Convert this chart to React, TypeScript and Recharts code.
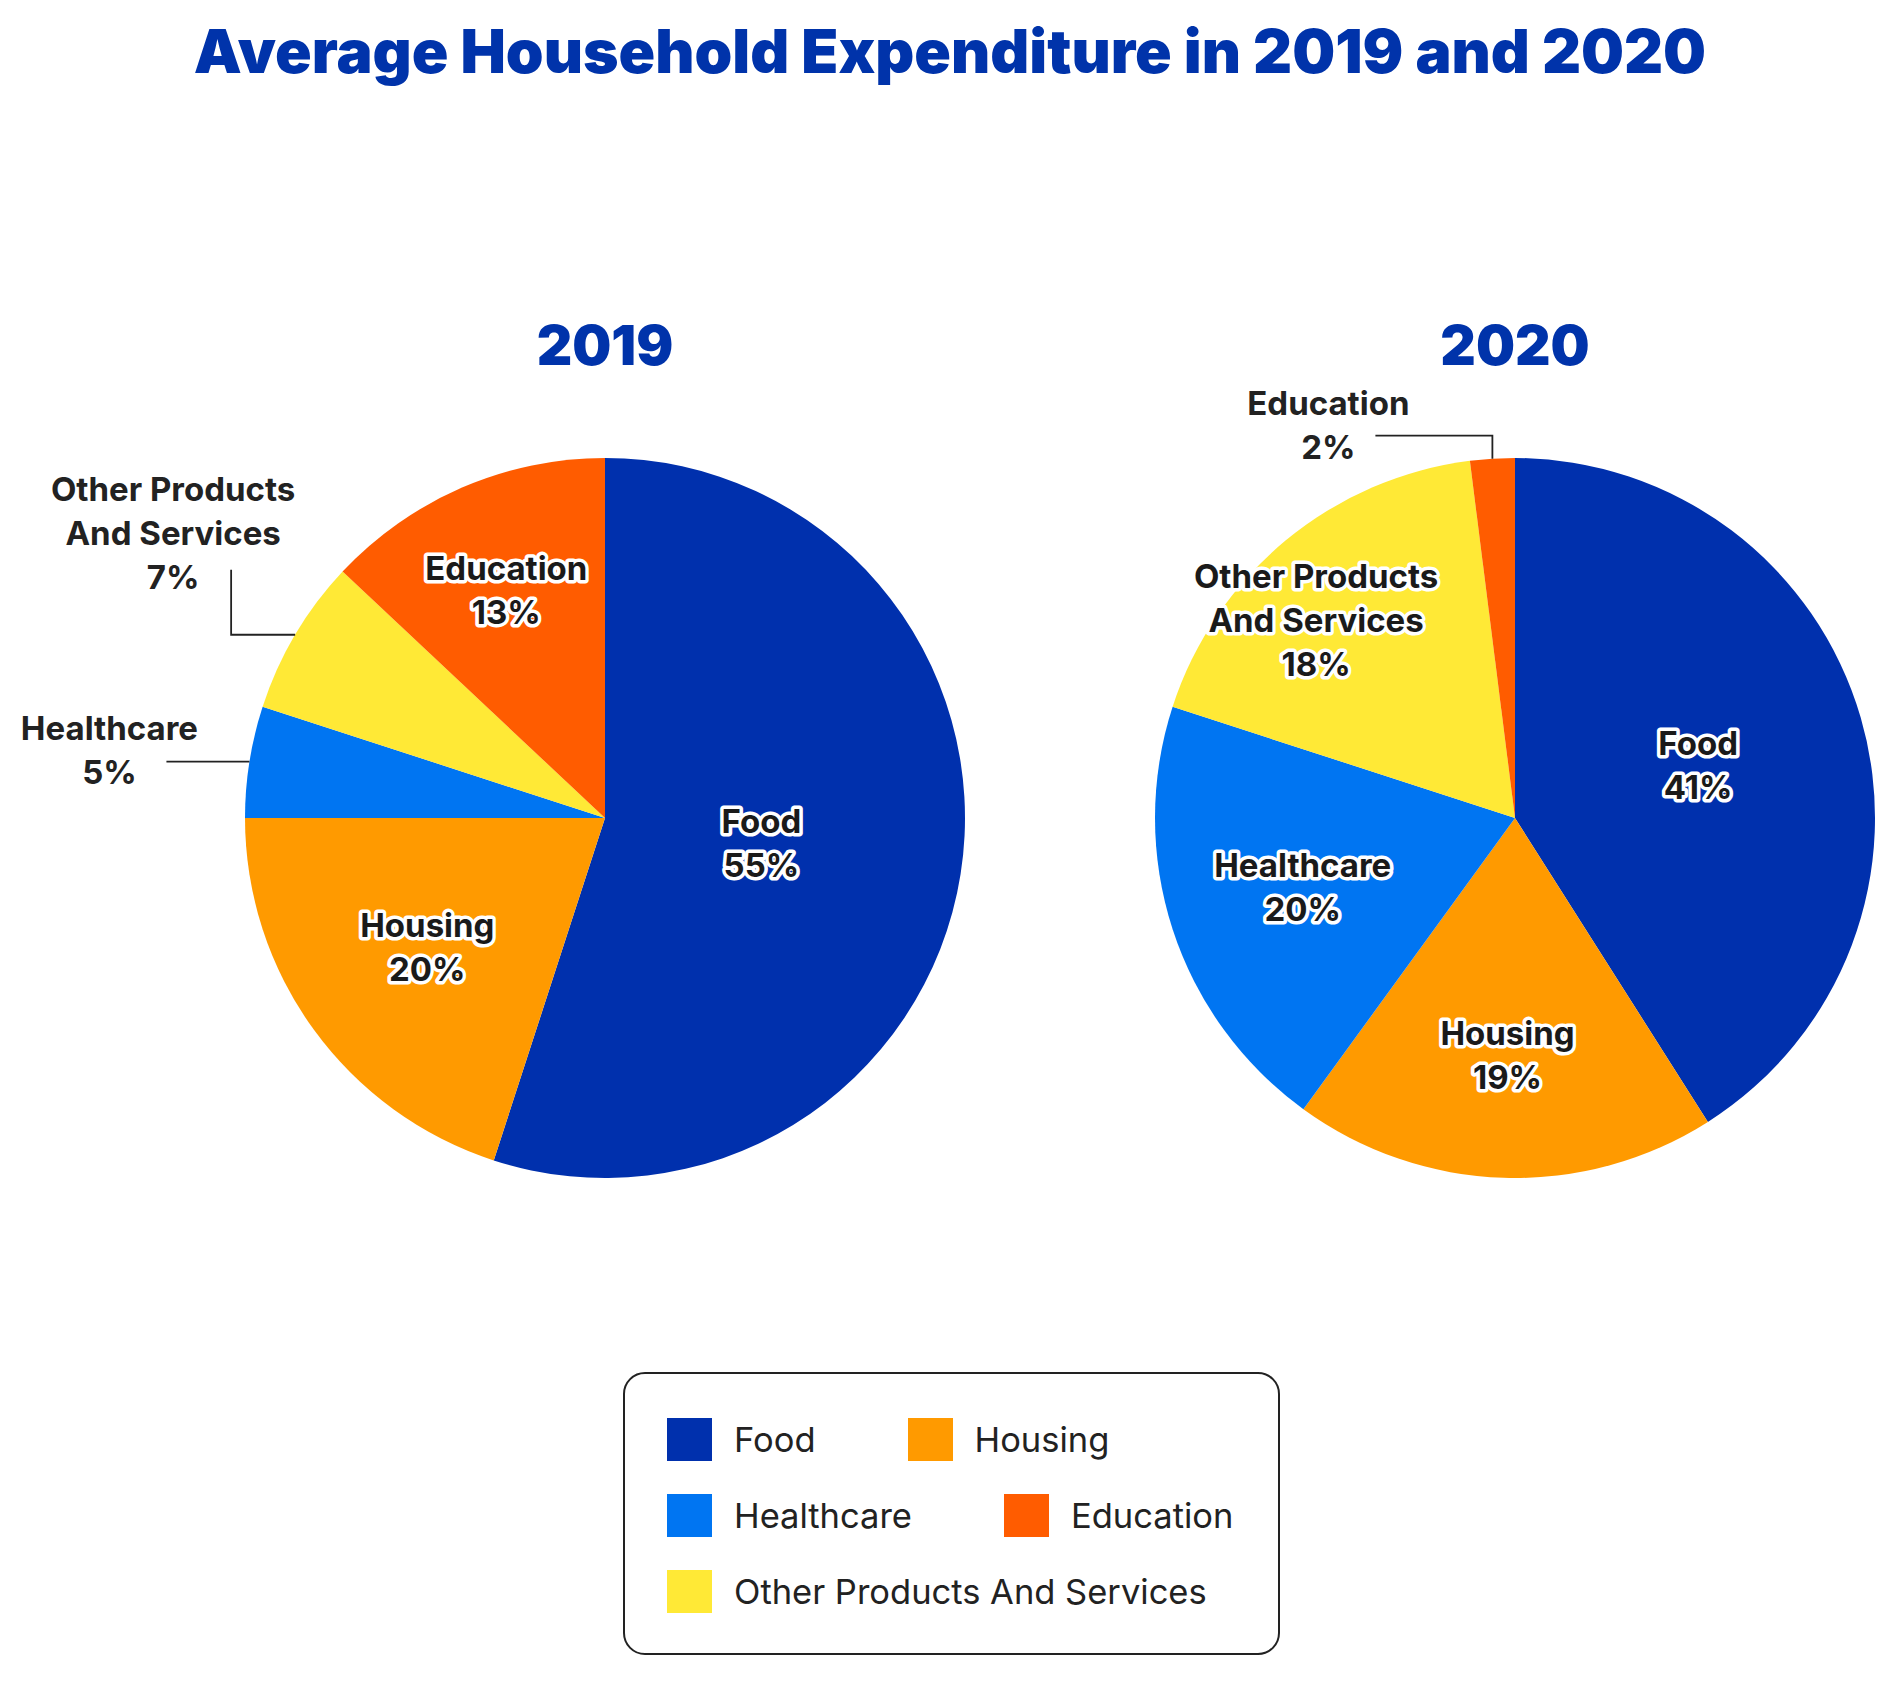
import React from 'react';
import { PieChart, Pie, Cell } from 'recharts';

const categories = ['Food', 'Housing', 'Healthcare', 'Other Products And Services', 'Education'];
const values2019 = [55, 20, 5, 7, 13];
const values2020 = [41, 19, 20, 18, 2];
const colors = ['#0030AD', '#FF9A00', '#0075F2', '#FFE936', '#FF5C00'];

const data2019 = categories.map((name, i) => ({ name, value: values2019[i] }));
const data2020 = categories.map((name, i) => ({ name, value: values2020[i] }));

// legend order as in the picture
const legendOrder = ['Food', 'Housing', 'Healthcare', 'Education', 'Other Products And Services'];

const FONT = 'Inter, "Noto Sans", sans-serif';
const RAD = Math.PI / 180;
const LINE_H = 44;
const LABEL_SIZE = 33;

// label radius (fraction of outer radius) and angle nudge for labels inside the slices
const innerRadius2019 = [0.44, 0.61, 0, 0, 0.69];
const innerRadius2020 = [0.53, 0.66, 0.62, 0.78, 0];
const angleNudge2019 = [0, 0, 0, 0, 0];
const angleNudge2020 = [0, 0, 0, 5.5, 0];

type Outside = { path: [number, number][]; text: [number, number] };

// leader lines: relative segments from the slice edge, and text block centre
const outside2019: Record<string, Outside> = {
  Healthcare: { path: [[-83, 0]], text: [-140, -12] },
  'Other Products And Services': { path: [[-64, 0], [0, -65]], text: [-122, -102] },
};
const outside2020: Record<string, Outside> = {
  Education: { path: [[0, -23], [-117, 0]], text: [-164, -34] },
};

const splitName = (name: string) =>
  name === 'Other Products And Services' ? ['Other Products', 'And Services'] : [name];

const makeLabel = (radii: number[], nudge: number[], outside: Record<string, Outside>) => (props: any) => {
  const { cx, cy, midAngle, outerRadius, index, name, value } = props;
  const lines = [...splitName(name), `${value}%`];
  const out = outside[name];
  if (out) {
    const ex = cx + outerRadius * Math.cos(-midAngle * RAD);
    const ey = cy + outerRadius * Math.sin(-midAngle * RAD);
    let d = `M${ex},${ey}`;
    let px = ex;
    let py = ey;
    out.path.forEach(([dx, dy]) => {
      px += dx;
      py += dy;
      d += ` L${px},${py}`;
    });
    const tx = ex + out.text[0];
    const ty = ey + out.text[1];
    return (
      <g key={`lbl-${index}`}>
        <path d={d} stroke="#222" strokeWidth={1.8} fill="none" />
        <text x={tx} textAnchor="middle" fontFamily={FONT} fontWeight={700} fontSize={LABEL_SIZE} fill="#222">
          {lines.map((l, i) => (
            <tspan key={i} x={tx} y={ty + (i - (lines.length - 1) / 2) * LINE_H} dominantBaseline="central">
              {l}
            </tspan>
          ))}
        </text>
      </g>
    );
  }
  const a = -(midAngle + nudge[index]) * RAD;
  const r = outerRadius * radii[index];
  const x = cx + r * Math.cos(a);
  const y = cy + r * Math.sin(a);
  return (
    <text
      key={`lbl-${index}`}
      x={x}
      textAnchor="middle"
      fontFamily={FONT}
      fontWeight={700}
      fontSize={LABEL_SIZE}
      fill="#1a1a1a"
      stroke="#fff"
      strokeWidth={7}
      strokeLinejoin="round"
      paintOrder="stroke"
    >
      {lines.map((l, i) => (
        <tspan key={i} x={x} y={y + (i - (lines.length - 1) / 2) * LINE_H} dominantBaseline="central">
          {l}
        </tspan>
      ))}
    </text>
  );
};

const subTitle: React.CSSProperties = {
  position: 'absolute',
  top: 315,
  width: 300,
  textAlign: 'center',
  fontFamily: FONT,
  fontWeight: 900,
  fontSize: 55,
  lineHeight: '60px',
  color: '#0033AA',
};

export default function App() {
  return (
    <div style={{ position: 'relative', width: 1900, height: 1686, background: '#fff' }}>
      <style>{'body{margin:0}'}</style>
      <div
        style={{
          position: 'absolute',
          top: 18,
          left: 0,
          width: 1900,
          textAlign: 'center',
          fontFamily: FONT,
          fontWeight: 900,
          fontSize: 60.5,
          lineHeight: '66px',
          color: '#0033AA',
        }}
      >
        Average Household Expenditure in 2019 and 2020
      </div>
      <div style={{ ...subTitle, left: 605 - 150 }}>2019</div>
      <div style={{ ...subTitle, left: 1515 - 150 }}>2020</div>

      <div style={{ position: 'absolute', top: 0, left: 0 }}>
        <PieChart width={1900} height={1686} margin={{ top: 0, right: 0, bottom: 0, left: 0 }}>
          <Pie
            data={data2019}
            dataKey="value"
            nameKey="name"
            cx={605}
            cy={818}
            outerRadius={360}
            startAngle={90}
            endAngle={-270}
            stroke="none"
            labelLine={false}
            label={makeLabel(innerRadius2019, angleNudge2019, outside2019)}
            isAnimationActive={false}
          >
            {data2019.map((d, i) => (
              <Cell key={d.name} fill={colors[i]} />
            ))}
          </Pie>
          <Pie
            data={data2020}
            dataKey="value"
            nameKey="name"
            cx={1515}
            cy={818}
            outerRadius={360}
            startAngle={90}
            endAngle={-270}
            stroke="none"
            labelLine={false}
            label={makeLabel(innerRadius2020, angleNudge2020, outside2020)}
            isAnimationActive={false}
          >
            {data2020.map((d, i) => (
              <Cell key={d.name} fill={colors[i]} />
            ))}
          </Pie>
        </PieChart>
      </div>

      <div
        style={{
          position: 'absolute',
          left: 623,
          top: 1372,
          width: 657,
          height: 283,
          boxSizing: 'border-box',
          border: '2px solid #222',
          borderRadius: 22,
        }}
      >
        <div
          style={{
            position: 'absolute',
            left: 42,
            top: 43,
            width: 605,
            display: 'flex',
            flexWrap: 'wrap',
            columnGap: 92,
            rowGap: 32,
          }}
        >
          {legendOrder.map((name) => (
            <div key={name} style={{ display: 'flex', alignItems: 'center', height: 44 }}>
              <div style={{ width: 45, height: 43, background: colors[categories.indexOf(name)] }} />
              <span
                style={{
                  marginLeft: 22,
                  fontFamily: FONT,
                  fontSize: 34.5,
                  color: '#222',
                  whiteSpace: 'nowrap',
                }}
              >
                {name}
              </span>
            </div>
          ))}
        </div>
      </div>
    </div>
  );
}
